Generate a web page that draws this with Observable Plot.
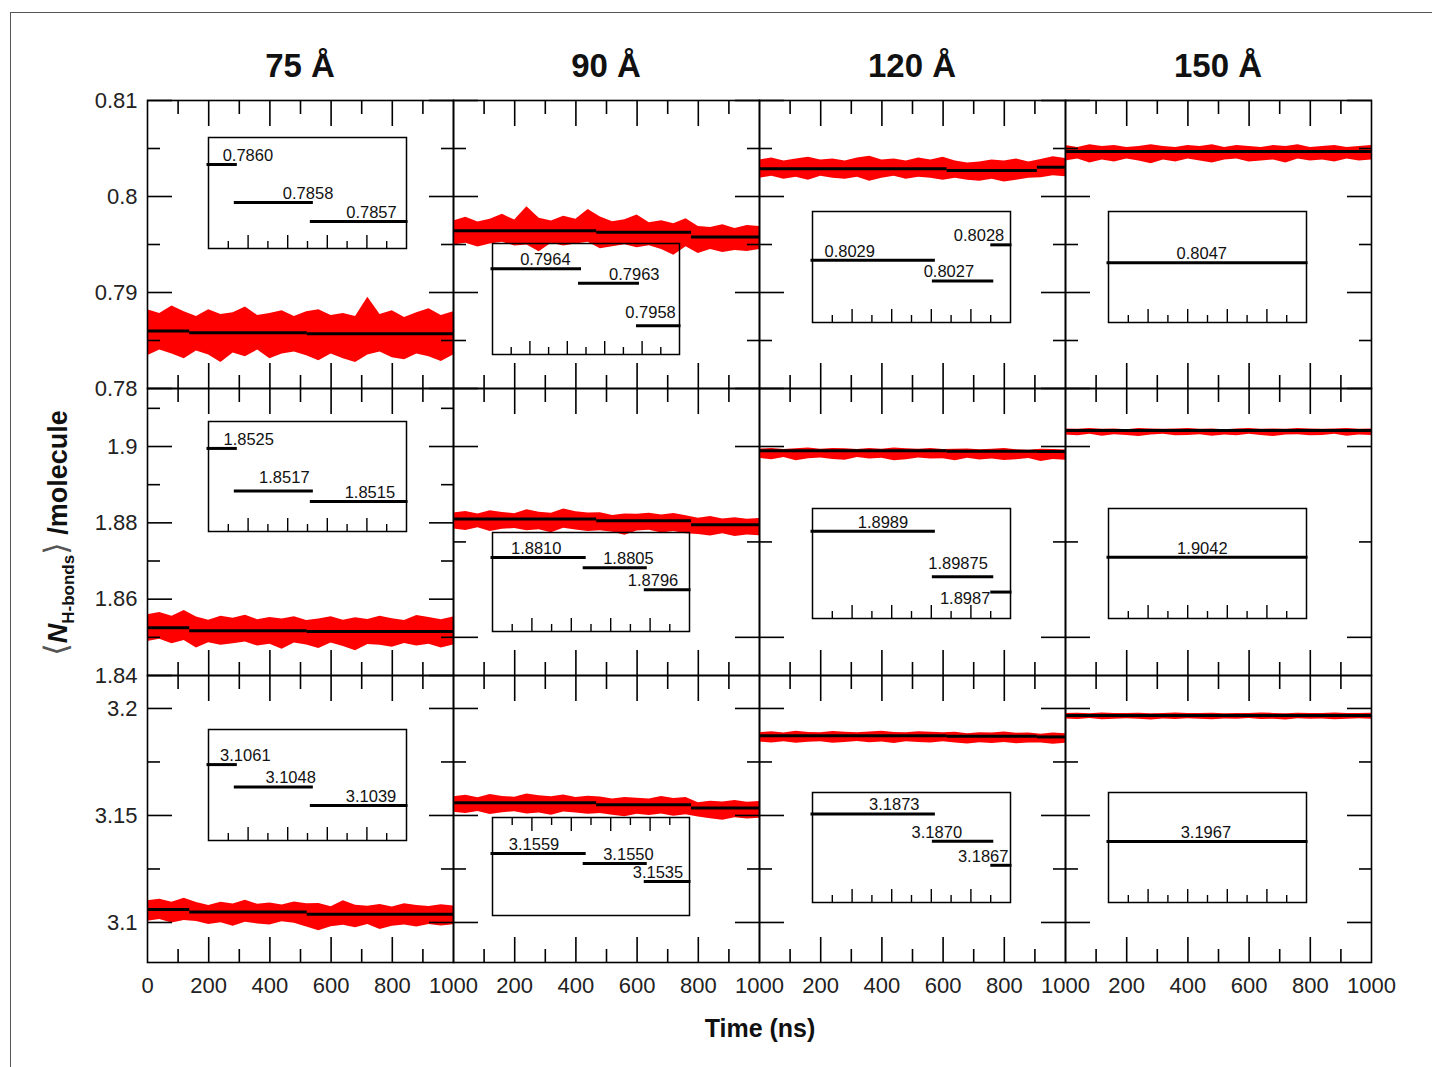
<!DOCTYPE html>
<html><head><meta charset="utf-8">
<script src="https://cdn.jsdelivr.net/npm/d3@7"></script>
<script src="https://cdn.jsdelivr.net/npm/@observablehq/plot@0.6"></script>
<style>
body{margin:0;background:#fff;}
#root{position:relative;width:1432px;height:1067px;background:#fff;overflow:hidden;font-family:"Liberation Sans",Arial,Helvetica,sans-serif;}
.outer{position:absolute;left:10px;top:12px;width:1450px;height:1080px;border-left:1px solid #555;border-top:1px solid #555;}
.title{position:absolute;top:45px;width:306px;text-align:center;font-weight:bold;font-size:33px;line-height:42px;color:#111;}
.xlab{position:absolute;left:610px;width:300px;top:1012px;text-align:center;font-weight:bold;font-size:25px;line-height:32px;color:#111;}
.ylab{position:absolute;left:58px;top:533px;transform:translate(-50%,-50%) rotate(-90deg);white-space:nowrap;font-weight:bold;font-size:27px;color:#111;}
.ylab .br{font-family:"DejaVu Sans",sans-serif;font-weight:normal;font-size:32px;color:#555;}
.ylab sub{font-size:17px;vertical-align:-7px;}
</style></head>
<body><div id="root"><div class="outer"></div></div>
<script>
// ---------------- data ----------------
const columnTitles = ["75 Å", "90 Å", "120 Å", "150 Å"];
const sampleTimes = [0,40,80,120,160,200,240,280,320,360,400,440,480,520,560,600,640,680,720,760,800,840,880,920,960,1000];

const xTickMajor = [200,400,600,800];
const xTickMinor = [100,300,500,700,900];
const xLabelsFirst = [0,200,400,600,800,1000];
const xLabelsRest = [200,400,600,800,1000];
const insetTickMajor = [200,400,600,800];
const insetTickMinor = [100,300,500,700,900];

const yDomain1 = [0.78, 0.81];
const yMajor1 = [0.78, 0.79, 0.80, 0.81];
const yMinor1 = [0.785, 0.795, 0.805];
const yLabels1 = [0.81, 0.8, 0.79, 0.78];
const yDomain2 = [1.84, 1.9152];
const yMajor2a = [1.84, 1.86, 1.88, 1.90];
const yMinor2a = [1.85, 1.87, 1.89, 1.91];
const yMajor2b = [1.85, 1.90];
const yMinor2b = [1.875];
const yLabels2 = [1.9, 1.88, 1.86, 1.84];
const yDomain3 = [3.0813, 3.2154];
const yMajor3 = [3.1, 3.15, 3.2];
const yMinor3 = [3.125, 3.175];
const yLabels3 = [3.2, 3.15, 3.1];

// block boundaries (ns) of the averaging windows, per column
const breaks75 = [0, 138, 522, 1000];
const breaks90 = [0, 468, 778, 1000];
const breaks120 = [0, 613, 908, 1000];
const breaks150 = [0, 1000];

// block averages (positions) and their printed labels
const val_r1c1 = [0.7860, 0.7858, 0.7857];   const txt_r1c1 = ["0.7860","0.7858","0.7857"];
const val_r1c2 = [0.79644, 0.79627, 0.79577]; const txt_r1c2 = ["0.7964","0.7963","0.7958"];
const val_r1c3 = [0.80290, 0.80270, 0.80305]; const txt_r1c3 = ["0.8029","0.8027","0.8028"];
const val_r1c4 = [0.8047];                   const txt_r1c4 = ["0.8047"];
const val_r2c1 = [1.8525, 1.8517, 1.8515];   const txt_r2c1 = ["1.8525","1.8517","1.8515"];
const val_r2c2 = [1.8810, 1.88053, 1.87953]; const txt_r2c2 = ["1.8810","1.8805","1.8796"];
const val_r2c3 = [1.8989, 1.89875, 1.8987];  const txt_r2c3 = ["1.8989","1.89875","1.8987"];
const val_r2c4 = [1.9042];                   const txt_r2c4 = ["1.9042"];
const val_r3c1 = [3.1061, 3.10489, 3.1039];  const txt_r3c1 = ["3.1061","3.1048","3.1039"];
const val_r3c2 = [3.1559, 3.15505, 3.1535];  const txt_r3c2 = ["3.1559","3.1550","3.1535"];
const val_r3c3 = [3.1873, 3.18698, 3.1867];  const txt_r3c3 = ["3.1873","3.1870","3.1867"];
const val_r3c4 = [3.1967];                   const txt_r3c4 = ["3.1967"];

// label anchor times (ns, inset axis) and placement relative to the segment
const lbl_r1c1 = [199, 503, 823];  const plc_r1c1 = ["above","above","above"];
const lbl_r1c2 = [283, 758, 845];  const plc_r1c2 = ["above","above","high"];
const lbl_r1c3 = [188, 689, 841];  const plc_r1c3 = ["above","above","above"];
const lbl_r1c4 = [471];            const plc_r1c4 = ["above"];
const lbl_r2c1 = [203, 383, 815];  const plc_r2c1 = ["above","high","above"];
const lbl_r2c2 = [222, 690, 815];  const plc_r2c2 = ["above","above","above"];
const lbl_r2c3 = [356, 735, 771];  const plc_r2c3 = ["above","high","below"];
const lbl_r2c4 = [474];            const plc_r2c4 = ["above"];
const lbl_r3c1 = [186, 415, 821];  const plc_r3c1 = ["above","above","above"];
const lbl_r3c2 = [211, 690, 840];  const plc_r3c2 = ["above","above","above"];
const lbl_r3c3 = [413, 628, 862];  const plc_r3c3 = ["above","above","above"];
const lbl_r3c4 = [492];            const plc_r3c4 = ["above"];

// inset y ranges
const ins_r1c1 = [0.785558, 0.786142];
const ins_r1c2 = [0.795432, 0.796738];
const ins_r1c3 = [0.802298, 0.803373];
const ins_r1c4 = [0.8041, 0.805213];
const ins_r2c1 = [1.850936, 1.853007];
const ins_r2c2 = [1.877636, 1.882136];
const ins_r2c3 = [1.898613, 1.898975];
const ins_r2c4 = [1.903584, 1.90469];
const ins_r3c1 = [3.102008, 3.107992];
const ins_r3c2 = [3.150620, 3.158951];
const ins_r3c3 = [3.186265, 3.187551];
const ins_r3c4 = [3.19609, 3.19719];

// fluctuation envelope around the block average (units of 1e-4), at sampleTimes
const hi_r1c1 = [22,18,26,20,17,24,19,21,27,18,20,23,17,22,25,19,21,18,38,20,24,17,22,26,19,23];
const lo_r1c1 = [-26,-20,-24,-29,-19,-23,-31,-21,-25,-18,-27,-22,-20,-24,-28,-21,-26,-30,-22,-19,-25,-27,-21,-24,-29,-22];
const hi_r1c2 = [10,14,9,12,17,11,25,13,10,15,12,22,16,11,13,18,10,12,9,14,11,10,13,9,12,11];
const lo_r1c2 = [-15,-13,-17,-14,-12,-16,-15,-22,-13,-16,-14,-12,-17,-15,-13,-16,-14,-18,-24,-15,-17,-13,-16,-14,-15,-13];
const hi_r1c3 = [9,11,8,10,12,9,10,8,11,13,9,10,8,11,9,12,10,8,9,11,10,12,9,8,11,9];
const lo_r1c3 = [-10,-8,-11,-9,-12,-8,-10,-11,-9,-13,-10,-8,-11,-9,-10,-12,-8,-10,-11,-9,-12,-10,-8,-11,-9,-10];
const hi_r1c4 = [6,4,7,5,6,4,5,7,5,4,6,5,7,4,6,5,4,6,5,7,4,5,6,4,5,6];
const lo_r1c4 = [-10,-8,-12,-9,-11,-8,-10,-13,-9,-11,-8,-10,-12,-9,-8,-11,-10,-9,-12,-8,-10,-9,-11,-8,-10,-9];
const hi_r2c1 = [34,40,30,45,36,28,38,33,41,29,35,31,37,27,33,39,30,36,32,40,34,29,42,37,31,38];
const lo_r2c1 = [-36,-30,-42,-33,-45,-31,-38,-34,-29,-40,-35,-48,-32,-37,-44,-30,-39,-50,-34,-36,-41,-31,-38,-33,-43,-35];
const hi_r2c2 = [16,20,13,22,17,14,24,18,15,26,19,16,21,14,18,17,20,15,19,13,17,21,15,18,14,16];
const lo_r2c2 = [-26,-30,-23,-33,-27,-25,-31,-28,-36,-24,-29,-33,-26,-30,-38,-27,-25,-32,-28,-34,-26,-30,-24,-31,-27,-29];
const hi_r2c3 = [4,6,3,5,7,4,6,5,3,6,4,7,5,4,6,3,5,6,4,5,7,4,3,6,5,4];
const lo_r2c3 = [-20,-24,-18,-26,-21,-19,-23,-25,-18,-22,-20,-26,-24,-19,-22,-21,-25,-18,-23,-20,-24,-22,-19,-26,-21,-23];
const hi_r2c4 = [4,3,5,3,4,2,5,4,3,4,5,3,4,2,4,5,3,4,3,5,4,3,4,5,3,4];
const lo_r2c4 = [-12,-14,-10,-15,-11,-13,-16,-12,-10,-14,-13,-11,-15,-12,-14,-10,-13,-16,-12,-11,-14,-13,-10,-15,-12,-13];
const hi_r3c1 = [40,48,34,52,44,30,46,38,55,36,42,33,47,39,50,35,62,41,37,45,33,49,40,36,44,38];
const lo_r3c1 = [-55,-47,-63,-52,-44,-58,-50,-66,-48,-56,-61,-45,-53,-70,-78,-59,-52,-64,-49,-72,-57,-51,-60,-48,-55,-50];
const hi_r3c2 = [28,35,24,39,30,26,41,33,29,37,25,31,36,27,34,30,26,38,29,33,25,31,28,35,27,30];
const lo_r3c2 = [-44,-50,-40,-55,-46,-42,-52,-48,-58,-43,-47,-53,-41,-49,-56,-45,-51,-44,-54,-47,-42,-50,-57,-46,-52,-48];
const hi_r3c3 = [14,18,12,20,15,13,19,16,14,17,21,15,13,18,16,14,19,12,17,15,20,14,16,13,18,15];
const lo_r3c3 = [-30,-34,-28,-36,-31,-29,-35,-32,-27,-33,-30,-37,-29,-32,-34,-28,-31,-36,-30,-33,-29,-35,-31,-28,-34,-30];
const hi_r3c4 = [9,11,8,12,10,9,11,8,10,12,9,10,11,8,10,9,12,10,8,11,9,10,12,9,10,11];
const lo_r3c4 = [-16,-19,-14,-20,-17,-15,-18,-21,-16,-19,-15,-17,-20,-16,-18,-14,-19,-17,-21,-15,-18,-16,-20,-17,-15,-18];

// ---------------- layout ----------------
const colLeft = [147, 453, 759, 1065];
const colWidth = 306;
const rowTop = [100, 388, 675];
const rowHeight = [288, 287, 287];
const insetBox = [ // [left, top, width, height]
  [[208,137,198,111],[492,243,187,111],[812,211,198,111],[1108,211,198,111]],
  [[208,421,198,110],[492,532,197,99],[812,508,198,110],[1108,508,198,110]],
  [[208,729,198,111],[492,817,197,98],[812,792,198,110],[1108,792,198,110]]
];

const breaksByCol = [breaks75, breaks90, breaks120, breaks150];
const vals = [[val_r1c1,val_r1c2,val_r1c3,val_r1c4],[val_r2c1,val_r2c2,val_r2c3,val_r2c4],[val_r3c1,val_r3c2,val_r3c3,val_r3c4]];
const txts = [[txt_r1c1,txt_r1c2,txt_r1c3,txt_r1c4],[txt_r2c1,txt_r2c2,txt_r2c3,txt_r2c4],[txt_r3c1,txt_r3c2,txt_r3c3,txt_r3c4]];
const lbls = [[lbl_r1c1,lbl_r1c2,lbl_r1c3,lbl_r1c4],[lbl_r2c1,lbl_r2c2,lbl_r2c3,lbl_r2c4],[lbl_r3c1,lbl_r3c2,lbl_r3c3,lbl_r3c4]];
const plcs = [[plc_r1c1,plc_r1c2,plc_r1c3,plc_r1c4],[plc_r2c1,plc_r2c2,plc_r2c3,plc_r2c4],[plc_r3c1,plc_r3c2,plc_r3c3,plc_r3c4]];
const insDom = [[ins_r1c1,ins_r1c2,ins_r1c3,ins_r1c4],[ins_r2c1,ins_r2c2,ins_r2c3,ins_r2c4],[ins_r3c1,ins_r3c2,ins_r3c3,ins_r3c4]];
const his = [[hi_r1c1,hi_r1c2,hi_r1c3,hi_r1c4],[hi_r2c1,hi_r2c2,hi_r2c3,hi_r2c4],[hi_r3c1,hi_r3c2,hi_r3c3,hi_r3c4]];
const los = [[lo_r1c1,lo_r1c2,lo_r1c3,lo_r1c4],[lo_r2c1,lo_r2c2,lo_r2c3,lo_r2c4],[lo_r3c1,lo_r3c2,lo_r3c3,lo_r3c4]];
const yDomains = [yDomain1, yDomain2, yDomain3];
const yLabels = [yLabels1, yLabels2, yLabels3];

const root = document.getElementById("root");
const FONT = '"Liberation Sans", Arial, Helvetica, sans-serif';
const svgStyle = {overflow: "visible", background: "transparent", fontFamily: FONT};

function place(node, left, top, w, h) {
  const d = document.createElement("div");
  d.style.cssText = `position:absolute;left:${left}px;top:${top}px;width:${w}px;height:${h}px;`;
  d.appendChild(node);
  root.appendChild(d);
}

function blockValue(breaks, values, t) {
  for (let k = 0; k < values.length; k++) if (t < breaks[k + 1]) return values[k];
  return values[values.length - 1];
}

function tickSet(xs, anchors, size, extra = {}) {
  const o = {fill: "none", label: null, stroke: "#000", strokeWidth: 1.6, ...extra};
  return anchors.map(a => (a === "top" || a === "bottom")
    ? Plot.axisX(xs, {...o, anchor: a, tickSize: -size})
    : Plot.axisY(xs, {...o, anchor: a, tickSize: -size}));
}

// titles
columnTitles.forEach((t, c) => {
  const d = document.createElement("div");
  d.className = "title";
  d.style.left = colLeft[c] + "px";
  d.textContent = t;
  root.appendChild(d);
});

// panels
for (let r = 0; r < 3; r++) {
  for (let c = 0; c < 4; c++) {
    const breaks = breaksByCol[c];
    const values = vals[r][c];
    const segs = values.map((v, k) => ({x1: breaks[k], x2: breaks[k + 1], v}));
    const band = sampleTimes.map((t, i) => {
      const base = blockValue(breaks, values, t);
      return {t, lo: base + los[r][c][i] * 1e-4, hi: base + his[r][c][i] * 1e-4};
    });
    let yMaj, yMin;
    if (r === 0) { yMaj = yMajor1; yMin = yMinor1; }
    else if (r === 1) { yMaj = c === 0 ? yMajor2a : yMajor2b; yMin = c === 0 ? yMinor2a : yMinor2b; }
    else { yMaj = yMajor3; yMin = yMinor3; }

    const marks = [
      Plot.areaY(band, {x: "t", y1: "lo", y2: "hi", fill: "#ff0000", curve: "linear"}),
      Plot.ruleY(segs, {x1: "x1", x2: "x2", y: "v", stroke: "#000", strokeWidth: 3}),
      Plot.frame({stroke: "#000", strokeWidth: 1.6}),
      ...tickSet(xTickMajor, ["top", "bottom"], 25),
      ...tickSet(xTickMinor, ["top", "bottom"], 13),
      ...tickSet(yMaj, ["left", "right"], 25),
      ...tickSet(yMin, ["left", "right"], 13)
    ];
    if (c === 0) {
      marks.push(Plot.axisY(yLabels[r], {anchor: "left", tickSize: 0, tickPadding: 10, fontSize: 22, fill: "#222", label: null, tickFormat: d => String(d)}));
    }
    if (r === 2) {
      marks.push(Plot.axisX(c === 0 ? xLabelsFirst : xLabelsRest, {anchor: "bottom", tickSize: 0, tickPadding: 15, fontSize: 22, fill: "#222", label: null, tickFormat: d => String(d)}));
    }
    const p = Plot.plot({
      width: colWidth, height: rowHeight[r], margin: 0,
      style: svgStyle,
      x: {domain: [0, 1000], axis: null},
      y: {domain: yDomains[r], axis: null},
      marks
    });
    place(p, colLeft[c], rowTop[r], colWidth, rowHeight[r]);
  }
}

// insets
for (let r = 0; r < 3; r++) {
  for (let c = 0; c < 4; c++) {
    const [L, T, W, H] = insetBox[r][c];
    const breaks = breaksByCol[c];
    const values = vals[r][c];
    const segs = values.map((v, k) => ({x1: breaks[k], x2: breaks[k + 1], v}));
    const labels = values.map((v, k) => ({t: lbls[r][c][k], v, label: txts[r][c][k], place: plcs[r][c][k]}));
    const tickAnchor = (r === 2 && c === 1) ? "top" : "bottom";
    const textOpts = {x: "t", y: "v", text: "label", fontSize: 16.5, fill: "#111"};
    const p = Plot.plot({
      width: W, height: H, margin: 0,
      style: svgStyle,
      x: {domain: [0, 1000], axis: null},
      y: {domain: insDom[r][c], axis: null},
      marks: [
        Plot.frame({stroke: "#000", strokeWidth: 1.5}),
        ...tickSet(insetTickMajor, [tickAnchor], 13, {strokeWidth: 1.4}),
        ...tickSet(insetTickMinor, [tickAnchor], 7, {strokeWidth: 1.4}),
        Plot.ruleY(segs, {x1: "x1", x2: "x2", y: "v", stroke: "#000", strokeWidth: 3, strokeLinecap: "square"}),
        Plot.text(labels.filter(d => d.place === "above"), {...textOpts, dy: -9}),
        Plot.text(labels.filter(d => d.place === "high"), {...textOpts, dy: -13}),
        Plot.text(labels.filter(d => d.place === "below"), {...textOpts, dy: 7})
      ]
    });
    place(p, L, T, W, H);
  }
}

// axis titles
const xl = document.createElement("div");
xl.className = "xlab"; xl.textContent = "Time (ns)";
root.appendChild(xl);
const yl = document.createElement("div");
yl.className = "ylab";
yl.innerHTML = '<span class="br">⟨</span><i>N</i><sub>H-bonds</sub><span class="br">⟩</span> /molecule';
root.appendChild(yl);
</script>
</body></html>
